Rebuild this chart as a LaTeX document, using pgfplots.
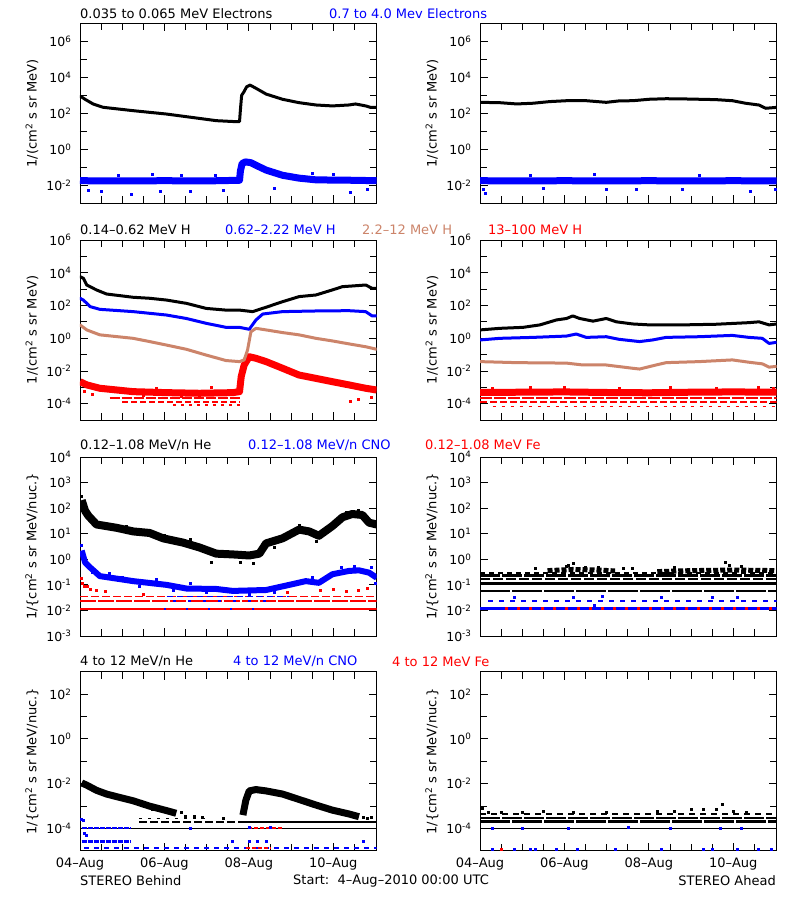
\documentclass[border=0pt]{standalone}
\usepackage{fontspec}
\setmainfont{DejaVu Sans}
\usepackage{pgfplots}
\pgfplotsset{compat=1.18}
\definecolor{hbrown}{RGB}{204,132,106}
\newcommand\tf{\fontsize{13}{15}\selectfont}
\newcommand\tickf{\fontsize{12.5}{14}\selectfont}
\pgfplotsset{
  mypanel/.style={
    scale only axis, width=296.7pt,
    xmin=0, xmax=7.03,
    xtick={0,2,4,6}, minor xtick={0.5,1,1.5,2.5,3,3.5,4.5,5,5.5,6.5},
    xticklabels={},
    tick align=inside, major tick length=8pt, minor tick length=7pt,
    every tick/.append style={black, line width=0.8pt},
    axis line style={line width=0.8pt},
    yticklabel={\pgfmathtruncatemacro{\ex}{round(\tick)}10\textsuperscript{\ex}},
    yticklabel style={font=\tickf, xshift=-5pt},
    xticklabel style={font=\tf, yshift=-4pt},
    every axis y label/.style={at={(axis description cs:0,0.5)}, xshift=-48pt, rotate=90, anchor=center, font=\tf},
  },
  mycurve/.style={line width=3pt, line join=round, line cap=round},
  myband/.style={line width=#1, line join=round, line cap=butt},
  mypts/.style={only marks, mark=square*, mark size=1pt},
  myrow/.style={line width=#1, line cap=butt},
}
\begin{document}
\begin{tikzpicture}[x=1pt,y=1pt]
\path[use as bounding box, fill=white] (0,0) rectangle (800,-900);

% ---------- titles ----------
\node[anchor=west, inner sep=0, font=\tf] at (80,-13.3) {0.035 to 0.065 MeV Electrons};
\node[anchor=west, inner sep=0, font=\tf, text=blue] at (329,-13.3) {0.7 to 4.0 Mev Electrons};
\node[anchor=west, inner sep=0, font=\tf] at (80,-230) {0.14–0.62 MeV H};
\node[anchor=west, inner sep=0, font=\tf, text=blue] at (225,-230) {0.62–2.22 MeV H};
\node[anchor=west, inner sep=0, font=\tf, text=hbrown] at (362,-230) {2.2–12 MeV H};
\node[anchor=west, inner sep=0, font=\tf, text=red] at (488,-230) {13–100 MeV H};
\node[anchor=west, inner sep=0, font=\tf] at (80,-445) {0.12–1.08 MeV/n He};
\node[anchor=west, inner sep=0, font=\tf, text=blue] at (248,-445) {0.12–1.08 MeV/n CNO};
\node[anchor=west, inner sep=0, font=\tf, text=red] at (425,-445) {0.12–1.08 MeV Fe};
\node[anchor=west, inner sep=0, font=\tf] at (80,-661.7) {4 to 12 MeV/n He};
\node[anchor=west, inner sep=0, font=\tf, text=blue] at (233,-661.7) {4 to 12 MeV/n CNO};
\node[anchor=west, inner sep=0, font=\tf, text=red] at (392,-661.7) {4 to 12 MeV Fe};
\node[anchor=west, inner sep=0, font=\tf] at (80,-881) {STEREO Behind};
\node[anchor=west, inner sep=0, font=\tf] at (293,-881) {Start:\ \ 4–Aug–2010 00:00 UTC};
\node[anchor=east, inner sep=0, font=\tf] at (776,-881) {STEREO Ahead};

% ================= Row 1 left =================
\begin{axis}[ymode=log, log basis y=10, mypanel, at={(80pt,-23.3pt)}, anchor=north west, height=180pt,
  ymin=1e-3, ymax=1e7, ytick={1e-2,1,1e2,1e4,1e6}, minor ytick={1e-1,1e1,1e3,1e5},
  ylabel={1/(cm\textsuperscript{2} s sr MeV)}]
\addplot[blue, myband=7pt] coordinates {(0,0.018)(1,0.0175)(2,0.018)(3,0.0175)(3.78,0.019)(3.80,0.06)(3.84,0.16)(3.92,0.2)(4.05,0.18)(4.2,0.12)(4.41,0.07)(4.8,0.036)(5.19,0.025)(5.6,0.02)(6.5,0.019)(7.03,0.018)};
\addplot[blue, mypts] coordinates {(0.2,0.0055)(0.5,0.0045)(1.21,0.0033)(1.9,0.005)(2.6,0.0045)(3.4,0.0055)(4.6,0.007)(6.4,0.0042)(6.8,0.006)(1.7,0.04)(2.4,0.035)(5.5,0.045)(6.0,0.04)(0.9,0.038)(3.2,0.036)};
\addplot[black, mycurve] coordinates {(0,850)(0.04,800)(0.12,600)(0.31,330)(0.55,215)(1.26,140)(2.05,91)(2.83,52)(3.23,39)(3.62,35)(3.78,35)(3.80,150)(3.83,1000)(3.88,1500)(3.95,3000)(4.03,3700)(4.17,2450)(4.41,1170)(4.80,600)(5.19,390)(5.59,290)(5.98,257)(6.37,290)(6.53,330)(6.77,257)(6.88,215)(7.03,215)};
\end{axis}

% ================= Row 1 right =================
\begin{axis}[ymode=log, log basis y=10, mypanel, at={(480pt,-23.3pt)}, anchor=north west, height=180pt,
  ymin=1e-3, ymax=1e7, ytick={1e-2,1,1e2,1e4,1e6}, minor ytick={1e-1,1e1,1e3,1e5},
  ylabel={1/(cm\textsuperscript{2} s sr MeV)}]
\addplot[blue, myband=7pt] coordinates {(0,0.018)(1,0.0175)(2,0.018)(3,0.0175)(4,0.018)(5,0.0175)(6,0.018)(7.03,0.0175)};
\addplot[blue, mypts] coordinates {(0.12,0.0036)(0.08,0.006)(1.5,0.0065)(3.0,0.006)(3.7,0.0058)(4.8,0.006)(6.4,0.0045)(7.0,0.006)(2.7,0.04)(5.2,0.038)(1.2,0.038)};
\addplot[black, mycurve] coordinates {(0,407)(0.47,389)(0.87,331)(1.26,363)(1.65,447)(2.05,501)(2.52,501)(2.99,407)(3.30,490)(3.62,501)(4.01,603)(4.41,646)(4.80,631)(5.19,603)(5.59,575)(5.98,501)(6.29,363)(6.61,288)(6.77,190)(7.03,214)};
\end{axis}

% ================= Row 2 left =================
\begin{axis}[ymode=log, log basis y=10, mypanel, at={(80pt,-240pt)}, anchor=north west, height=180pt,
  ymin=1e-5, ymax=1e6, ytick={1e-4,1e-2,1,1e2,1e4,1e6}, minor ytick={1e-3,1e-1,1e1,1e3,1e5},
  ylabel={1/(cm\textsuperscript{2} s sr MeV)}]
\addplot[red, myrow=1.8pt, dash pattern=on 10pt off 2pt] coordinates {(0.7,2.1e-4)(3.78,2.1e-4)};
\addplot[red, myrow=1.5pt, dash pattern=on 6pt off 3pt] coordinates {(1.0,1.3e-4)(3.78,1.3e-4)};
\addplot[red, myrow=1.5pt, dash pattern=on 3pt off 5pt] coordinates {(2.2,8.3e-5)(3.78,8.3e-5)};
\addplot[red, myband=7pt] coordinates {(0,2.2e-3)(0.16,1.4e-3)(0.47,8.7e-4)(1.26,5.4e-4)(2.05,4.7e-4)(2.83,4.3e-4)(3.62,4.7e-4)(3.78,5.4e-4)(3.82,4.5e-3)(3.89,2.3e-2)(4.01,7.4e-2)(4.17,5.9e-2)(4.41,3.7e-2)(4.80,1.45e-2)(5.19,5.6e-3)(5.59,3.5e-3)(5.98,2.2e-3)(6.37,1.4e-3)(6.77,8.7e-4)(7.03,6.8e-4)};
\addplot[red, mypts] coordinates {(6.4,1.4e-4)(6.6,2e-4)(6.9,2.5e-4)(0.1,6e-4)(0.3,4e-4)(1.5,3.2e-4)(2.4,3e-4)(3.1,1e-3)(1.8,9e-4)};
\addplot[hbrown, mycurve] coordinates {(0,6.5)(0.16,3.2)(0.47,1.6)(1.26,0.98)(1.65,0.62)(2.05,0.38)(2.52,0.21)(2.99,0.093)(3.46,0.043)(3.78,0.037)(3.89,0.047)(3.97,0.19)(4.05,2.5)(4.17,4.0)(4.41,3.2)(4.80,2.2)(5.19,1.6)(5.59,0.98)(5.98,0.68)(6.37,0.45)(6.77,0.30)(7.03,0.21)};
\addplot[blue, mycurve] coordinates {(0,275)(0.08,214)(0.24,85)(0.47,58)(1.26,42)(2.05,26)(2.52,16)(2.99,8.1)(3.46,4.6)(3.78,4.6)(4.01,3.5)(4.17,13)(4.33,30)(4.80,42)(5.59,46)(6.37,48)(6.77,42)(6.92,23)(7.03,23)};
\addplot[black, mycurve] coordinates {(0,5750)(0.08,4570)(0.16,1780)(0.39,890)(0.63,500)(1.26,316)(1.65,275)(2.05,214)(2.52,135)(2.99,66)(3.46,52)(3.78,52)(4.09,42)(4.41,78)(4.80,170)(5.19,347)(5.59,437)(5.98,890)(6.22,1410)(6.45,1550)(6.77,1780)(6.92,1120)(7.03,1120)};
\end{axis}

% ================= Row 2 right =================
\begin{axis}[ymode=log, log basis y=10, mypanel, at={(480pt,-240pt)}, anchor=north west, height=180pt,
  ymin=1e-5, ymax=1e6, ytick={1e-4,1e-2,1,1e2,1e4,1e6}, minor ytick={1e-3,1e-1,1e1,1e3,1e5},
  ylabel={1/(cm\textsuperscript{2} s sr MeV)}]
\addplot[red, myrow=1.8pt, dash pattern=on 12pt off 2pt] coordinates {(0,2.1e-4)(7.03,2.1e-4)};
\addplot[red, myrow=1.5pt, dash pattern=on 7pt off 3pt] coordinates {(0,1.3e-4)(7.03,1.3e-4)};
\addplot[red, myrow=1.5pt, dash pattern=on 3pt off 6pt] coordinates {(0.3,6.6e-5)(7.03,6.6e-5)};
\addplot[red, myband=7pt] coordinates {(0,4.8e-4)(1,5e-4)(2,5.2e-4)(3,4.8e-4)(4,4.6e-4)(5,5e-4)(6,5.2e-4)(7.03,5e-4)};
\addplot[red, mypts] coordinates {(0.3,9e-4)(1.2,1e-3)(2.0,9.5e-4)(3.3,9e-4)(4.5,1e-3)(5.6,9e-4)(6.6,1e-3)(6.95,9e-4)};
\addplot[hbrown, mycurve] coordinates {(0,0.037)(0.87,0.032)(2.05,0.030)(2.44,0.023)(2.99,0.023)(3.62,0.0145)(3.78,0.013)(4.17,0.023)(4.41,0.032)(5.19,0.037)(5.98,0.047)(6.37,0.034)(6.69,0.027)(6.85,0.017)(7.03,0.019)};
\addplot[blue, mycurve] coordinates {(0,0.78)(0.47,0.98)(1.26,1.12)(2.05,1.35)(2.28,1.8)(2.52,1.12)(2.99,1.23)(3.30,0.85)(3.78,0.62)(4.09,0.78)(4.41,1.12)(5.19,1.23)(5.98,1.48)(6.37,1.12)(6.69,0.98)(6.85,0.48)(7.03,0.56)};
\addplot[black, mycurve] coordinates {(0,3.2)(0.47,4.0)(1.02,4.6)(1.42,6.5)(1.81,13)(2.05,16)(2.20,23)(2.36,16)(2.68,11)(2.99,16)(3.23,10)(3.62,7.4)(4.01,6.5)(4.80,6.5)(5.59,7.1)(6.37,8.9)(6.61,10)(6.85,6.5)(7.03,7.4)};
\end{axis}

% ================= Row 3 left =================
\begin{axis}[ymode=log, log basis y=10, mypanel, at={(80pt,-457pt)}, anchor=north west, height=179pt,
  ymin=1e-3, ymax=1e4, ytick={1e-3,1e-2,1e-1,1,1e1,1e2,1e3,1e4},
  ylabel={1/\{cm\textsuperscript{2} s sr MeV/nuc.\}}]
\addplot[red, myrow=1.5pt, dash pattern=on 8pt off 3pt] coordinates {(0,3.45e-2)(7.03,3.45e-2)};
\addplot[blue, myrow=1.5pt, dash pattern=on 6pt off 4pt] coordinates {(2.05,3.45e-2)(4.96,3.45e-2)};
\addplot[red, myrow=2.5pt, dash pattern=on 16pt off 2pt] coordinates {(0,2.3e-2)(7.03,2.3e-2)};
\addplot[blue, myrow=2.5pt, dash pattern=on 3pt off 12pt] coordinates {(2.2,2.3e-2)(4.5,2.3e-2)};
\addplot[red, myrow=2.5pt] coordinates {(0,1.15e-2)(7.03,1.15e-2)};
\addplot[blue, myrow=2.5pt, dash pattern=on 2pt off 20pt] coordinates {(2.0,1.15e-2)(4.6,1.15e-2)};
\addplot[red, mypts] coordinates {(0.04,0.19)(0.06,0.12)(0.1,0.09)(0.16,0.085)(0.25,0.07)(0.39,0.063)(0.6,0.055)(5.7,0.06)(6.0,0.07)(6.3,0.055)(6.6,0.06)(6.8,0.075)(4.9,0.05)(1.5,0.045)};
\addplot[blue, myband=6pt] coordinates {(0.04,2.2)(0.12,0.76)(0.24,0.48)(0.47,0.22)(1.26,0.14)(2.05,0.1)(2.52,0.072)(3.23,0.069)(3.62,0.058)(4.41,0.063)(4.96,0.1)(5.35,0.14)(5.66,0.12)(5.98,0.26)(6.37,0.35)(6.61,0.37)(6.85,0.30)(7.03,0.19)};
\addplot[blue, mypts] coordinates {(0.04,3.5)(0.08,1.5)(0.3,0.3)(1.0,0.2)(1.8,0.16)(2.6,0.12)(3.0,0.05)(4.0,0.045)(4.6,0.05)(5.5,0.2)(6.2,0.5)(6.5,0.55)(6.9,0.5)(7.0,0.12)(0.7,0.28)(1.4,0.09)(2.2,0.06)};
\addplot[black, myband=8pt] coordinates {(0.04,204)(0.12,79)(0.20,50)(0.39,23)(0.87,17)(1.26,12.3)(1.65,10.7)(1.97,6.6)(2.44,4.5)(2.83,2.9)(3.23,1.66)(3.62,1.55)(4.01,1.41)(4.25,1.66)(4.41,4.2)(4.80,6.6)(5.19,14.5)(5.43,12.3)(5.66,8.3)(5.98,20)(6.22,44)(6.45,59)(6.69,54)(6.85,27)(7.03,23)};
\addplot[black, mypts] coordinates {(0.02,300)(0.1,120)(3.1,0.8)(3.8,0.75)(4.1,0.7)(2.0,9)(5.2,22)(5.6,5)(6.3,70)(6.6,80)(1.1,20)(4.6,3)(5.0,12)(2.6,6)};
\end{axis}

% ================= Row 3 right =================
\begin{axis}[ymode=log, log basis y=10, mypanel, at={(480pt,-457pt)}, anchor=north west, height=179pt,
  ymin=1e-3, ymax=1e4, ytick={1e-3,1e-2,1e-1,1,1e1,1e2,1e3,1e4},
  ylabel={1/\{cm\textsuperscript{2} s sr MeV/nuc.\}}]
\addplot[blue, myrow=1.5pt, dash pattern=on 5pt off 6pt] coordinates {(0.2,2.34e-2)(7.03,2.34e-2)};
\addplot[blue, myrow=2.5pt] coordinates {(0,1.17e-2)(7.03,1.17e-2)};
\addplot[red, myrow=2.5pt, dash pattern=on 3pt off 9pt] coordinates {(0.6,1.17e-2)(7.03,1.17e-2)};
\addplot[blue, mypts] coordinates {(0.8,3.2e-2)(2.2,3.3e-2)(2.9,3.6e-2)(4.3,3.2e-2)(5.5,3.3e-2)(6.1,3.3e-2)(2.7,1.6e-2)};
\addplot[black, myrow=2.5pt, dash pattern=on 30pt off 2pt] coordinates {(0,5.85e-2)(7.03,5.85e-2)};
\addplot[black, myrow=3pt] coordinates {(0,0.117)(7.03,0.117)};
\addplot[black, myrow=2pt, dash pattern=on 10pt off 3pt] coordinates {(0,0.1755)(7.03,0.1755)};
\addplot[black, myrow=2.5pt, dash pattern=on 20pt off 2pt] coordinates {(0,0.234)(7.03,0.234)};
\addplot[black, myrow=1.5pt, dash pattern=on 5pt off 4pt] coordinates {(0,0.2925)(7.03,0.2925)};
\addplot[black, myband=5pt, dash pattern=on 5pt off 2pt] coordinates {(1.6,0.36)(2.2,0.4)(2.8,0.38)(3.2,0.35)};
\addplot[black, myband=5pt, dash pattern=on 5pt off 2pt] coordinates {(4.2,0.33)(5.0,0.36)(6.0,0.38)(7.03,0.36)};
\addplot[black, mypts] coordinates {(2.1,0.6)(2.2,0.7)(2.05,0.55)(2.5,0.5)(2.8,0.5)(5.8,0.8)(5.9,0.6)(6.2,0.55)(3.4,0.45)(3.6,0.45)(1.3,0.45)(4.6,0.5)};
\end{axis}

% ================= Row 4 left =================
\begin{axis}[ymode=log, log basis y=10, mypanel, at={(80pt,-671.7pt)}, anchor=north west, height=179pt,
  ymin=1e-5, ymax=1e3, ytick={1e-4,1e-2,1,1e2}, minor ytick={1e-3,1e-1,1e1},
  xticklabels={04–Aug,06–Aug,08–Aug,10–Aug},
  ylabel={1/\{cm\textsuperscript{2} s sr MeV/nuc.\}}]
\addplot[black, myrow=1pt] coordinates {(0,1e-4)(7.03,1e-4)};
\addplot[black, myrow=2pt, dash pattern=on 8pt off 3pt] coordinates {(1.4,2e-4)(3.8,2e-4)};
\addplot[black, myrow=2pt] coordinates {(3.8,2e-4)(7.03,2e-4)};
\addplot[black, myrow=1.5pt, dash pattern=on 3pt off 6pt] coordinates {(1.4,2.8e-4)(3.0,2.8e-4)};
\addplot[blue, myrow=2.5pt, dash pattern=on 5pt off 1pt] coordinates {(0.04,1.05e-4)(1.2,1.05e-4)};
\addplot[blue, myrow=2.5pt, dash pattern=on 5pt off 1pt] coordinates {(0.04,2.6e-5)(1.2,2.6e-5)};
\addplot[blue, myrow=2pt, dash pattern=on 5pt off 5pt] coordinates {(0.1,1.3e-5)(7.03,1.3e-5)};
\addplot[red, myrow=2.5pt, dash pattern=on 4pt off 2pt] coordinates {(3.97,1.05e-4)(4.8,1.05e-4)};
\addplot[red, myrow=2.5pt, dash pattern=on 4pt off 2pt] coordinates {(3.93,1.3e-5)(4.5,1.3e-5)};
\addplot[blue, mypts] coordinates {(0.04,2.5e-4)(0.08,2.2e-4)(0.1,6e-5)(0.15,5e-5)(2.6,1e-4)(3.6,2.6e-5)(4.0,2.6e-5)(4.2,2.6e-5)(4.4,2.6e-5)(4.0,1.1e-4)(4.5,1.1e-4)(6.7,2.6e-5)};
\addplot[black, myband=7pt] coordinates {(0.04,1.07e-2)(0.16,8.5e-3)(0.39,5.0e-3)(0.63,3.4e-3)(0.87,2.6e-3)(1.26,1.7e-3)(1.65,9.8e-4)(2.05,6.2e-4)(2.28,4.7e-4)};
\addplot[black, myband=7pt] coordinates {(3.86,3.9e-4)(3.93,1.8e-3)(4.01,4.7e-3)(4.17,5.4e-3)(4.41,4.7e-3)(4.80,3.4e-3)(5.19,1.95e-3)(5.59,1.1e-3)(5.98,6.5e-4)(6.37,4.4e-4)(6.61,3.3e-4)};
\addplot[black, mypts] coordinates {(2.5,3.4e-4)(2.7,3.6e-4)(2.9,3.2e-4)(2.4,5e-4)(3.4,2.8e-4)(6.7,3.3e-4)(6.9,3.0e-4)(6.8,2.8e-4)(1.7,7e-4)};
\end{axis}

% ================= Row 4 right =================
\begin{axis}[ymode=log, log basis y=10, mypanel, at={(480pt,-671.7pt)}, anchor=north west, height=179pt,
  ymin=1e-5, ymax=1e3, ytick={1e-4,1e-2,1,1e2}, minor ytick={1e-3,1e-1,1e1},
  xticklabels={04–Aug,06–Aug,08–Aug,10–Aug},
  ylabel={1/\{cm\textsuperscript{2} s sr MeV/nuc.\}}]
\addplot[black, myrow=1pt] coordinates {(0,1e-4)(7.03,1e-4)};
\addplot[black, myrow=2.5pt, dash pattern=on 30pt off 2pt] coordinates {(0,2e-4)(7.03,2e-4)};
\addplot[black, myrow=2pt, dash pattern=on 20pt off 2pt] coordinates {(0,2.8e-4)(7.03,2.8e-4)};
\addplot[black, myrow=2pt, dash pattern=on 6pt off 5pt] coordinates {(0,4.2e-4)(7.03,4.2e-4)};
\addplot[black, mypts] coordinates {(0.05,8e-4)(0.2,5.5e-4)(0.5,5.5e-4)(1.0,5.5e-4)(1.5,6e-4)(2.2,5.5e-4)(3.0,5e-4)(4.2,6e-4)(4.6,6e-4)(5.0,7e-4)(5.3,7e-4)(5.6,7e-4)(5.74,1.2e-3)(6.0,6e-4)(6.3,5.5e-4)};
\addplot[blue, mypts] coordinates {(0.3,1e-4)(1.0,1e-4)(2.1,1e-4)(3.5,1.1e-4)(4.5,1e-4)(5.7,1e-4)(6.2,1e-4)(0.3,1.2e-5)(0.8,1.2e-5)(1.2,1.2e-5)(1.3,1.2e-5)(1.8,1.2e-5)(2.3,1.2e-5)(3.2,1.2e-5)(4.3,1.2e-5)(5.3,1.2e-5)(5.5,1.2e-5)(6.1,1.2e-5)(6.6,1.2e-5)(6.9,1.2e-5)};
\addplot[red, mypts] coordinates {(0.5,1.2e-5)};
\end{axis}
\end{tikzpicture}
\end{document}
